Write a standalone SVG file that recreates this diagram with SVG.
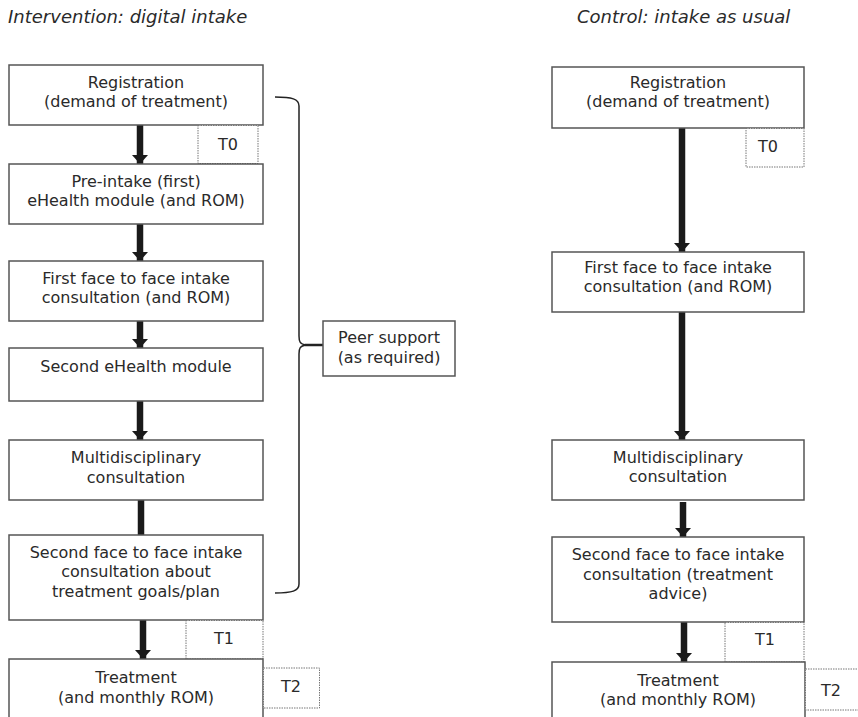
<svg xmlns="http://www.w3.org/2000/svg" width="858" height="717" viewBox="0 0 858 717">
<style>
  .box { fill: #fff; stroke: #555; stroke-width: 1.5; }
  .tbox { fill: #fff; stroke: #777; stroke-width: 1; stroke-dasharray: 1.5 1; }
  .t { font-family: "DejaVu Sans", Verdana, sans-serif; font-size: 16px; fill: #2a2a2a; text-anchor: middle; }
  .title { font-family: "DejaVu Sans", Verdana, sans-serif; font-size: 18px; font-style: italic; fill: #2a2a2a; }
  .arr { stroke: #1a1a1a; stroke-width: 6.5; fill: none; }
  .brace { stroke: #222; stroke-width: 1.5; fill: none; }
</style>
<defs>
  <marker id="ah" markerUnits="userSpaceOnUse" markerWidth="10" markerHeight="18" refX="9" refY="8" orient="auto">
    <path d="M0,0 L9,8 L0,16 Z" fill="#1a1a1a"/>
  </marker>
</defs>
<rect width="858" height="717" fill="#fff"/>

<text class="title" x="8" y="23">Intervention: digital intake</text>
<text class="title" x="577" y="23">Control: intake as usual</text>

<g id="connectors">
  <line class="arr" x1="140" y1="125" x2="140" y2="164" marker-end="url(#ah)"/>
  <line class="arr" x1="140" y1="224" x2="140" y2="261" marker-end="url(#ah)"/>
  <line class="arr" x1="140" y1="321" x2="140" y2="348" marker-end="url(#ah)"/>
  <line class="arr" x1="140" y1="401" x2="140" y2="440" marker-end="url(#ah)"/>
  <line class="arr" x1="141" y1="500" x2="141" y2="535"/>
  <line class="arr" x1="143" y1="620" x2="143" y2="659" marker-end="url(#ah)"/>

  <line class="arr" x1="682" y1="128" x2="682" y2="252" marker-end="url(#ah)"/>
  <line class="arr" x1="682" y1="312" x2="682" y2="440" marker-end="url(#ah)"/>
  <line class="arr" x1="683" y1="502" x2="683" y2="537" marker-end="url(#ah)"/>
  <line class="arr" x1="684" y1="622" x2="684" y2="662" marker-end="url(#ah)"/>

  <path class="brace" d="M275,97 C292,97 299,99 299,106 L299,336 C299,342 300,344 306,345 C300,346 299,348 299,354 L299,584 C299,591 292,593 275,593"/>
  <line x1="305" y1="345" x2="323" y2="345" stroke="#222" stroke-width="2.5"/>
</g>

<!-- Left column -->
<g id="l-reg">
  <rect class="box" x="9" y="65" width="254" height="60"/>
  <text class="t" x="136" y="88">Registration</text>
  <text class="t" x="136" y="107">(demand of treatment)</text>
</g>
<g id="l-t0">
  <rect class="tbox" x="198" y="125.5" width="60" height="38"/>
  <text class="t" x="228" y="150">T0</text>
</g>
<g id="l-pre">
  <rect class="box" x="9" y="164" width="254" height="60"/>
  <text class="t" x="136" y="187">Pre-intake (first)</text>
  <text class="t" x="136" y="206">eHealth module (and ROM)</text>
</g>
<g id="l-first">
  <rect class="box" x="9" y="261" width="254" height="60"/>
  <text class="t" x="136" y="284">First face to face intake</text>
  <text class="t" x="136" y="303">consultation (and ROM)</text>
</g>
<g id="l-second-ehealth">
  <rect class="box" x="9" y="348" width="254" height="53"/>
  <text class="t" x="136" y="372">Second eHealth module</text>
</g>
<g id="l-multi">
  <rect class="box" x="9" y="440" width="254" height="60"/>
  <text class="t" x="136" y="463">Multidisciplinary</text>
  <text class="t" x="136" y="483">consultation</text>
</g>
<g id="l-second-face">
  <rect class="box" x="9" y="535" width="254" height="85"/>
  <text class="t" x="136" y="558">Second face to face intake</text>
  <text class="t" x="136" y="577">consultation about</text>
  <text class="t" x="136" y="597">treatment goals/plan</text>
</g>
<g id="l-t1">
  <rect class="tbox" x="186" y="620.5" width="77" height="38.5"/>
  <text class="t" x="224" y="644">T1</text>
</g>
<g id="l-treatment">
  <rect class="box" x="9" y="659" width="254" height="70"/>
  <text class="t" x="136" y="683">Treatment</text>
  <text class="t" x="136" y="703">(and monthly ROM)</text>
</g>
<g id="l-t2">
  <rect class="tbox" x="263.5" y="668" width="56" height="40"/>
  <text class="t" x="291" y="692">T2</text>
</g>

<g id="peer">
  <rect class="box" x="323" y="321" width="132" height="55"/>
  <text class="t" x="389" y="343">Peer support</text>
  <text class="t" x="389" y="363">(as required)</text>
</g>

<!-- Right column -->
<g id="r-reg">
  <rect class="box" x="552" y="67" width="252" height="61"/>
  <text class="t" x="678" y="88">Registration</text>
  <text class="t" x="678" y="107">(demand of treatment)</text>
</g>
<g id="r-t0">
  <rect class="tbox" x="746" y="128.5" width="58" height="38.5"/>
  <text class="t" x="768" y="152">T0</text>
</g>
<g id="r-first">
  <rect class="box" x="552" y="252" width="252" height="60"/>
  <text class="t" x="678" y="273">First face to face intake</text>
  <text class="t" x="678" y="292">consultation (and ROM)</text>
</g>
<g id="r-multi">
  <rect class="box" x="552" y="440" width="252" height="60"/>
  <text class="t" x="678" y="463">Multidisciplinary</text>
  <text class="t" x="678" y="482">consultation</text>
</g>
<g id="r-second-face">
  <rect class="box" x="552" y="537" width="252" height="85"/>
  <text class="t" x="678" y="560">Second face to face intake</text>
  <text class="t" x="678" y="580">consultation (treatment</text>
  <text class="t" x="678" y="599">advice)</text>
</g>
<g id="r-t1">
  <rect class="tbox" x="725" y="622.5" width="79" height="39.5"/>
  <text class="t" x="765" y="645">T1</text>
</g>
<g id="r-treatment">
  <rect class="box" x="552" y="662" width="253" height="70"/>
  <text class="t" x="678" y="686">Treatment</text>
  <text class="t" x="678" y="705">(and monthly ROM)</text>
</g>
<g id="r-t2">
  <rect class="tbox" x="805.5" y="669" width="70" height="41"/>
  <text class="t" x="831" y="696">T2</text>
</g>
</svg>
